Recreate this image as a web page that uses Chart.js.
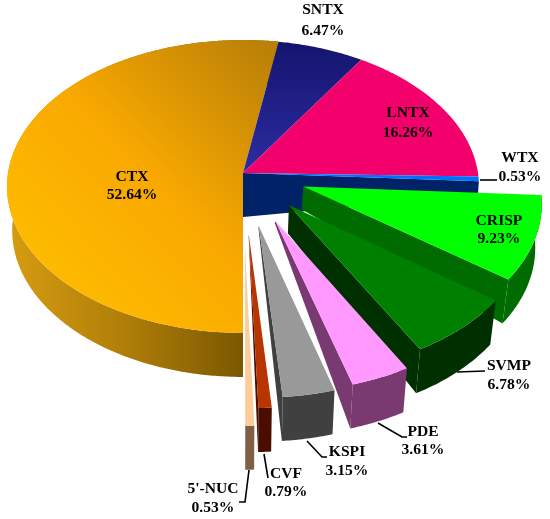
<!DOCTYPE html>
<html>
<head>
<meta charset="utf-8">
<script src="https://cdn.jsdelivr.net/npm/chart.js@4"></script>
<style>
  html, body { margin: 0; padding: 0; background: #fff; }
  canvas { display: block; }
</style>
</head>
<body>
<canvas id="pie" width="550" height="519"></canvas>
<script>
// values, clockwise from straight down
const categories = ["CTX", "SNTX", "LNTX", "WTX", "CRISP", "SVMP", "PDE", "KSPI", "CVF", "5'-NUC"];
const percents = [52.64, 6.47, 16.26, 0.53, 9.23, 6.78, 3.61, 3.15, 0.79, 0.53];
const pctLabels = ["52.64%", "6.47%", "16.26%", "0.53%", "9.23%", "6.78%", "3.61%", "3.15%", "0.79%", "0.53%"];

// look of each slice
const topColors = ["#ffb400", "#22228c", "#f2006b", "#0070ff", "#00ff00", "#008000", "#ff99ff", "#999999", "#b93500", "#ffcc99"];
const wallColors = ["#a87a08", "#14146e", "#002266", "#002266", "#006c00", "#003000", "#783a70", "#404040", "#4a0d00", "#7f5f45"];
const explode = [0, 0, 0, 0, 0.27, 0.29, 0.35, 0.36, 0.41, 0.5]; // share of radius
const apexDepth = [44, 44, 44, 44, 23, 28, 2, 2, 2, 2];

// text placement: [x, name y, value y]
const labelSpots = [[132,177,195],[323,10,31],[408,113,133],[520,158,177],[499,221,239],[509,366,385],[423,432,450],[347,452,471],[286,474,492],[213,489,508]];
const leaders = [
  [[480,180],[497,180]],
  [[457,372],[485,371]],
  [[378,423],[402,437],[407,437]],
  [[307,441],[322,457],[327,457]],
  [[264,454],[268,478]],
  [[249,470],[245,502],[239,502]]
];

// perspective of the pie's plane on the page
const view = { cx: 243, cy: 173, ax: 235, ay: 145.2, p: 0.0921, depth: 44, lean: 0.022 };
const R_GUESS = 207.6;

function project(nx, ny) {
  const w = 1 - view.p * ny;
  return [view.cx + view.ax * nx / w, view.cy + view.ay * ny / w];
}
function drop(pt, d) {
  return [pt[0] - view.lean * (pt[0] - view.cx), pt[1] + d];
}
function fillPoly(ctx, pts, fill) {
  ctx.beginPath();
  pts.forEach((p, i) => i ? ctx.lineTo(p[0], p[1]) : ctx.moveTo(p[0], p[1]));
  ctx.closePath();
  ctx.fillStyle = fill;
  ctx.fill();
}
function lin(ctx, x0, y0, x1, y1, stops) {
  const g = ctx.createLinearGradient(x0, y0, x1, y1);
  stops.forEach((c, i) => g.addColorStop(i / (stops.length - 1), c));
  return g;
}

function sliceGeom(arc) {
  const mid = (arc.startAngle + arc.endAngle) / 2;
  const off = arc.options.offset / arc.outerRadius;
  const ox = Math.cos(mid) * off, oy = Math.sin(mid) * off;
  const apex = project(ox, oy);
  const rim = [];
  const n = Math.max(2, Math.ceil((arc.endAngle - arc.startAngle) / 0.01));
  for (let i = 0; i <= n; i++) {
    const a = arc.startAngle + (arc.endAngle - arc.startAngle) * i / n;
    rim.push(project(Math.cos(a) + ox, Math.sin(a) + oy));
  }
  return { apex, rim };
}

const pie3d = {
  id: "pie3d",
  beforeDatasetsDraw(chart) {
    const ctx = chart.ctx;
    const arcs = chart.getDatasetMeta(0).data;
    const geoms = arcs.map(sliceGeom);
    ctx.save();

    // body of the uncut part
    const ctxRim = geoms[0].rim;
    fillPoly(ctx, ctxRim.concat(ctxRim.map(p => drop(p, view.depth)).reverse()),
      lin(ctx, 7, 0, 243, 0, ["#d69c12", "#b07e08", "#7a5800"]));
    const wtx = geoms[3];
    const wtxEnd = wtx.rim[wtx.rim.length - 1];
    fillPoly(ctx, [wtx.apex, wtxEnd, [wtxEnd[0] - 1, wtxEnd[1] + 14], drop(wtx.apex, view.depth)], wallColors[3]);

    // top faces of the uncut part
    [0, 1, 2, 3].forEach(i => {
      let fill = arcs[i].options.backgroundColor;
      if (i === 0) fill = lin(ctx, 10, 300, 278, 40, ["#ffc000", "#f9a900", "#b67d08"]);
      if (i === 1) fill = lin(ctx, 0, 40, 0, 173, ["#14146e", "#2c2ca2"]);
      fillPoly(ctx, [geoms[i].apex].concat(geoms[i].rim), fill);
    });

    // pulled out slices, back to front
    for (let i = 4; i < arcs.length; i++) {
      const g = geoms[i];
      const end = g.rim[g.rim.length - 1];
      fillPoly(ctx, [g.apex, end, drop(end, view.depth), drop(g.apex, apexDepth[i])], wallColors[i]);
      fillPoly(ctx, g.rim.concat(g.rim.map(p => drop(p, view.depth)).reverse()), wallColors[i]);
      fillPoly(ctx, [g.apex].concat(g.rim), arcs[i].options.backgroundColor);
    }
    ctx.restore();
    return false;
  },
  // afterDatasetsDraw is skipped once the hook above cancels, so text goes here
  afterDraw(chart) {
    const ctx = chart.ctx;
    ctx.save();
    ctx.strokeStyle = "#000";
    ctx.lineWidth = 1.6;
    leaders.forEach(line => {
      ctx.beginPath();
      line.forEach((p, i) => i ? ctx.lineTo(p[0], p[1]) : ctx.moveTo(p[0], p[1]));
      ctx.stroke();
    });
    ctx.font = "bold 15.6px 'Liberation Serif'";
    ctx.fillStyle = "#000";
    ctx.textAlign = "center";
    ctx.textBaseline = "middle";
    categories.forEach((name, i) => {
      const s = labelSpots[i];
      ctx.fillText(name, s[0], s[1]);
      ctx.fillText(pctLabels[i], s[0], s[2]);
    });
    ctx.restore();
  }
};

new Chart(document.getElementById("pie"), {
  type: "pie",
  data: {
    labels: categories,
    datasets: [{
      data: percents,
      backgroundColor: topColors,
      borderWidth: 0,
      offset: explode.map(f => f * R_GUESS)
    }]
  },
  options: {
    responsive: false,
    animation: false,
    rotation: 180,
    plugins: { legend: { display: false }, tooltip: { enabled: false } }
  },
  plugins: [pie3d]
});
</script>
</body>
</html>
